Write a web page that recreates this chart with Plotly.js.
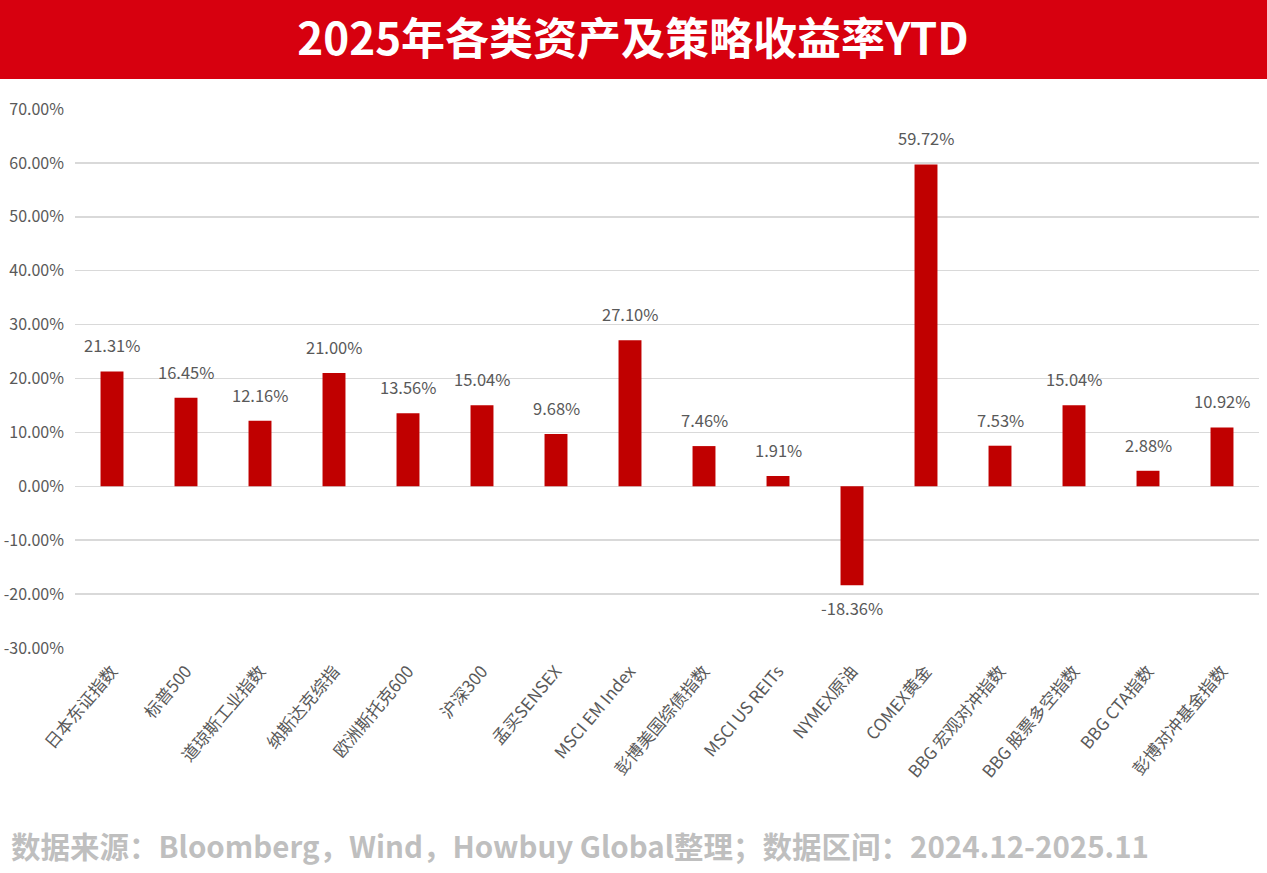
<!DOCTYPE html>
<html><head><meta charset="utf-8">
<script src="https://cdn.plot.ly/plotly-3.0.1.min.js"></script>
<style>html,body{margin:0;padding:0;background:#fff;}#c{width:1267px;height:873px;}</style>
</head><body><div id="c"></div>
<script>
const categories = ["日本东证指数","标普500","道琼斯工业指数","纳斯达克综指","欧洲斯托克600","沪深300","孟买SENSEX","MSCI EM Index","彭博美国综债指数","MSCI US REITs","NYMEX原油","COMEX黄金","BBG 宏观对冲指数","BBG 股票多空指数","BBG CTA指数","彭博对冲基金指数"];
const values = [21.31,16.45,12.16,21.00,13.56,15.04,9.68,27.10,7.46,1.91,-18.36,59.72,7.53,15.04,2.88,10.92];
const tickVals = [-30,-20,-10,0,10,20,30,40,50,60,70];
const tickText = tickVals.map(v => v.toFixed(2) + "%");
const titleText = "2025年各类资产及策略收益率YTD";
const sourceText = "数据来源：Bloomberg，Wind，Howbuy Global整理；数据区间：2024.12-2025.11";

const W = 1267, H = 873;
const M = {l: 75, r: 8, t: 109, b: 225};
const pw = W - M.l - M.r, ph = H - M.t - M.b;
const px2x = p => (p - M.l) / pw;
const py2y = p => 1 + (M.t - p) / ph;

const font = "'Noto Sans CJK SC', 'Microsoft YaHei', sans-serif";

const annotations = values.map((v, i) => ({
  x: categories[i], y: v, xref: 'x', yref: 'y',
  text: v.toFixed(2) + "%", showarrow: false,
  yanchor: 'middle', yshift: v >= 0 ? 26 : -23,
  font: {family: font, size: 16.5, color: '#595959'}
}));
annotations.push({
  xref: 'paper', yref: 'paper', x: px2x(9), y: py2y(845),
  xanchor: 'left', yanchor: 'middle', showarrow: false,
  text: sourceText,
  font: {family: font, size: 29.5, color: '#BFBFBF', weight: 'bold'}
});

const trace = {
  type: 'bar', x: categories, y: values,
  marker: {color: '#C00000'},
  hoverinfo: 'none'
};

const layout = {
  width: W, height: H,
  margin: M,
  paper_bgcolor: '#ffffff', plot_bgcolor: '#ffffff',
  bargap: 0.69,
  showlegend: false,
  title: {
    text: titleText, x: 633 / W, xref: 'container', xanchor: 'center',
    y: 1 - 40 / H, yref: 'container', yanchor: 'middle',
    font: {family: font, size: 44, color: '#ffffff', weight: 'bold'}
  },
  xaxis: {
    type: 'category', tickangle: -50, showgrid: false, zeroline: false,
    showline: false, ticks: '', ticklabelstandoff: 9,
    tickfont: {family: font, size: 17, color: '#595959'},
    fixedrange: true
  },
  yaxis: {
    range: [-30, 70], tickvals: tickVals, ticktext: tickText,
    showgrid: true, gridcolor: '#D9D9D9', gridwidth: 1.5,
    zeroline: true, zerolinecolor: '#D9D9D9', zerolinewidth: 1.5,
    showline: false, ticks: '', ticklabelstandoff: 10,
    tickfont: {family: font, size: 16, color: '#595959'},
    fixedrange: true
  },
  shapes: [{
    type: 'rect', xref: 'paper', yref: 'paper', layer: 'below',
    x0: px2x(0), x1: px2x(W), y0: py2y(79), y1: py2y(0),
    fillcolor: '#D7000F', line: {width: 0}
  }],
  annotations: annotations
};

Plotly.newPlot('c', [trace], layout, {displayModeBar: false, staticPlot: true});
</script></body></html>
